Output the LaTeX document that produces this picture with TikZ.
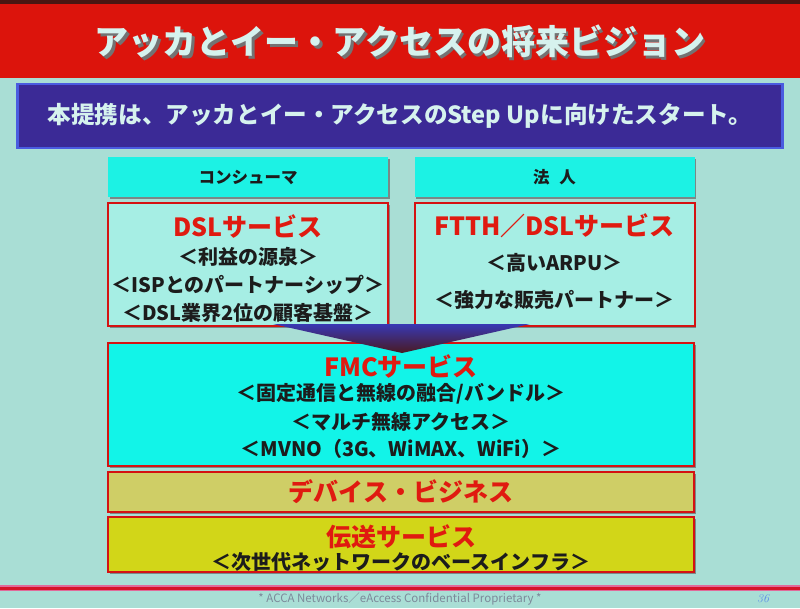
\documentclass[tikz,border=0pt]{standalone}
\usepackage{fontspec}
\newfontfamily\jp{Noto Sans CJK JP}
\usetikzlibrary{shadows}
\definecolor{bgteal}{HTML}{A9DED5}
\definecolor{bandred}{HTML}{DC140C}
\definecolor{bandtop}{HTML}{4A1612}
\definecolor{barblue}{HTML}{3B2A96}
\definecolor{barrim}{HTML}{4A5CE0}
\definecolor{headcyan}{HTML}{1CF2E4}
\definecolor{palecyan}{HTML}{A6EEE4}
\definecolor{fmccyan}{HTML}{12F4E8}
\definecolor{khaki}{HTML}{CFCE66}
\definecolor{lime}{HTML}{D2D618}
\definecolor{boxred}{HTML}{D41212}
\definecolor{inkred}{HTML}{E01A10}
\definecolor{ink}{HTML}{1C1C1C}
\definecolor{paletext}{HTML}{D6F2EE}
\definecolor{footgrey}{HTML}{7C8A9A}
\definecolor{linepink}{HTML}{E06A9A}
\definecolor{linered}{HTML}{D41428}
\definecolor{arrowblue}{HTML}{3838B4}
\definecolor{arrowdark}{HTML}{4A1A22}
\definecolor{numblue}{HTML}{5A8CE8}
\newcommand{\shadowtext}[1]{\makebox[0pt][l]{\hspace{2.5pt}\raisebox{-2.5pt}{\color{black!55}#1}}#1}
\tikzset{
  shade box/.style={drop shadow={shadow xshift=1.5pt, shadow yshift=-1.5pt, fill=black!60, opacity=0.7}},
  headbox/.style={shade box, fill=headcyan, inner sep=0pt, minimum width=280pt, minimum height=40pt,
    text=ink, font=\jp\bfseries\fontsize{16.5}{16.5}\selectfont},
  servicebox/.style={shade box, draw=boxred, line width=2pt, inner sep=0pt},
  redtitle/.style={text=inkred, font=\jp\bfseries\fontsize{25}{25}\selectfont},
  bodyline/.style={text=ink, font=\jp\bfseries\fontsize{20}{20}\selectfont},
}
\begin{document}
\begin{tikzpicture}[x=1pt, y=-1pt]
  % Background
  \useasboundingbox (0,0) rectangle (800,608);
  \fill[bgteal] (0,0) rectangle (800,608);
  \fill[bandred] (0,0) rectangle (800,78);
  \fill[bandtop] (0,0) rectangle (800,4);
  % Title
  \node[text=paletext, font=\jp\bfseries\fontsize{34}{34}\selectfont] (title) at (400,43) {\shadowtext{アッカとイー・アクセスの将来ビジョン}};
  % Vision bar
  \node[draw=barrim, line width=2.5pt, fill=barblue, minimum width=765pt, minimum height=64pt, inner sep=0pt,
    text=paletext, font=\jp\bfseries\fontsize{23.6}{23.6}\selectfont] (visionbar) at (400,116) {本提携は、アッカとイー・アクセスのStep Upに向けたスタート。};
  % Customer headers
  \node[headbox] (consumer) at (248,177) {コンシューマ};
  \node[headbox] (corporate) at (554.5,177) {法\hspace{0.6em}人};
  % Upper services
  \node[servicebox, fill=palecyan, minimum width=280pt, minimum height=123pt] (dsl) at (248,264.5) {};
  \node[servicebox, fill=palecyan, minimum width=280pt, minimum height=123pt] (ftth) at (554.5,264.5) {};
  \node[redtitle] (dsltitle) at (248,226) {DSLサービス};
  \node[bodyline] (dslprofit) at (248,257) {＜利益の源泉＞};
  \node[bodyline] (dslpartner) at (248,285) {＜ISPとのパートナーシップ＞};
  \node[bodyline] (dslbase) at (248,313) {＜DSL業界2位の顧客基盤＞};
  \node[redtitle] (ftthtitle) at (554.5,226) {FTTH／DSLサービス};
  \node[bodyline] (fttharpu) at (554.5,263) {＜高いARPU＞};
  \node[bodyline] (ftthsales) at (554.5,300) {＜強力な販売パートナー＞};
  % FMC
  \node[servicebox, fill=fmccyan, minimum width=586pt, minimum height=123pt] (fmc) at (401,404.5) {};
  \node[redtitle] (fmctitle) at (401,366) {FMCサービス};
  \node[bodyline] (fmcbundle) at (401,394) {＜固定通信と無線の融合/バンドル＞};
  \node[bodyline] (fmcaccess) at (401,422) {＜マルチ無線アクセス＞};
  \node[bodyline] (fmcmvno) at (401,449) {＜MVNO（3G、WiMAX、WiFi）＞};
  % Arrow
  \coordinate (arrowleft) at (273,324);
  \coordinate (arrowright) at (530,324);
  \coordinate (arrowtip) at (402,353);
  \shade[top color=arrowblue, bottom color=arrowdark] (arrowleft) -- (arrowright) -- (arrowtip) -- cycle;
  % Devices and transport
  \node[servicebox, fill=khaki, minimum width=586pt, minimum height=40pt, redtitle] (device) at (401,492) {デバイス・ビジネス};
  \node[servicebox, fill=lime, minimum width=586pt, minimum height=55pt] (transport) at (401,544.5) {};
  \node[redtitle] (transporttitle) at (401,537) {伝送サービス};
  \node[bodyline] (transportinfra) at (401,562) {＜次世代ネットワークのベースインフラ＞};
  % Footer
  \draw[linepink, line width=6pt] (0,588) -- (800,588);
  \draw[linered, line width=3pt] (0,588) -- (800,588);
  \node[text=footgrey, font=\jp\fontsize{11.5}{11.5}\selectfont] (footer) at (400,599) {* ACCA Networks／eAccess Confidential Proprietary *};
  \node[text=numblue, font=\itshape\fontsize{12}{12}\selectfont] (pagenum) at (763,599) {36};
\end{tikzpicture}
\end{document}
